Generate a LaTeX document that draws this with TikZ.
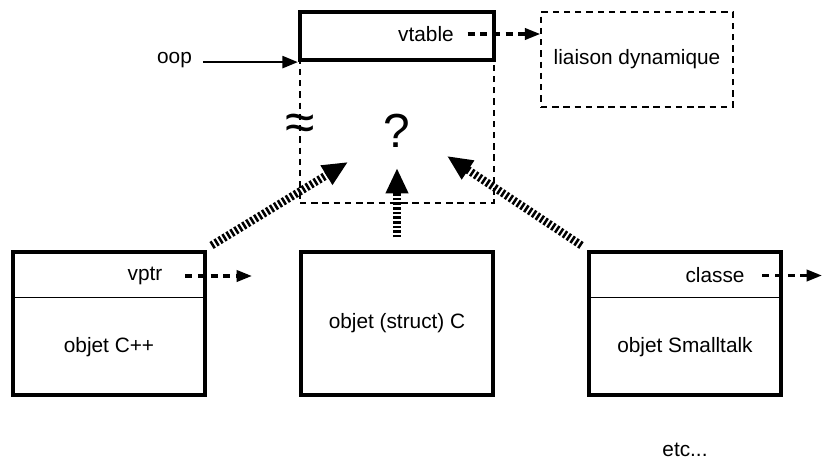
\documentclass[tikz,border=0pt]{standalone}
\usepackage{fontspec}
\setmainfont{Liberation Sans}
\usetikzlibrary{arrows.meta}
\tikzset{
  objbox/.style={draw, line width=2.2pt, minimum width=4.8cm, minimum height=3.575cm},
  zonebox/.style={draw, line width=1pt, dash pattern=on 4.5pt off 3.5pt},
  ptrarrow/.style={line width=2.3pt, dash pattern=on 5pt off 4pt, -{Triangle[length=11pt,width=8pt]}},
  hatcharrow/.style={line width=5.7pt, dash pattern=on 1.8pt off 1.5pt, -{Triangle[length=18pt,width=15pt]}},
}
\begin{document}
\begin{tikzpicture}[every node/.style={font=\fontsize{14.8}{17}\selectfont}]
	   \useasboundingbox (0,0) rectangle (20.575,11.475);
	   \node [zonebox,minimum width=4.85cm,minimum height=3.575cm] (zone) at (9.925,8.1875) {};
	   \node [draw,line width=3pt,fill=white,minimum width=4.85cm,minimum height=1.2cm] (vtable) at (9.925,10.575) {};
	   \node (vtabletxt) at (10.65,10.625) {vtable};
	   \node [zonebox,minimum width=4.8cm,minimum height=2.375cm] (liaison) at (15.925,9.9875) {liaison dynamique};
	   \node (oop) at (4.3625,9.975) {oop};
	   \node [font=\fontsize{34}{40}\selectfont] (question) at (9.925,8.2) {?};
	   \node [font=\fontsize{38}{42}\selectfont] (rupture) at (7.5,8.3) {≈};
	   \draw [ptrarrow] ([xshift=0.225cm]vtabletxt.east) -- (vtabletxt -| liaison.west);
	   \draw [line width=1.8pt,-{Triangle[length=11pt,width=8.5pt]}] ([xshift=0.15cm]oop.east |- vtable.south west) -- (vtable.south west);
	   \node [objbox] (cpp) at (2.725,3.3875) {};
	   \node [objbox] (cstruct) at (9.925,3.3875) {objet (struct) C};
	   \node [objbox] (smalltalk) at (17.125,3.3875) {};
	   \draw [line width=1pt] ([yshift=-1.175cm]cpp.north west) -- ([yshift=-1.175cm]cpp.north east);
	   \draw [line width=1pt] ([yshift=-1.175cm]smalltalk.north west) -- ([yshift=-1.175cm]smalltalk.north east);
	   \node (vptr) at (3.625,4.575) {vptr};
	   \node (cppname) at (2.725,2.8) {objet C++};
	   \node (classe) at (17.875,4.5875) {classe};
	   \node (stname) at (17.125,2.8) {objet Smalltalk};
	   \node [anchor=base] (etc) at (17.125,0.075) {etc...};
	   \coordinate (vptrend) at (6.3,4.575);
	   \coordinate (classeend) at (20.55,4.5875);
	   \draw [ptrarrow] ([xshift=0.45cm]vptr.east) -- (vptrend);
	   \draw [ptrarrow] ([xshift=0.325cm]classe.east) -- (classeend);
	   \coordinate (qleft) at (8.7,7.425);
	   \coordinate (qmid) at (9.925,7.275);
	   \coordinate (qright) at (11.175,7.575);
	   \draw [hatcharrow] ([shift={(0.125,0.125)}]cpp.north east) -- (qleft);
	   \draw [hatcharrow] ([yshift=0.325cm]cstruct.north) -- (qmid);
	   \draw [hatcharrow] ([shift={(-0.15,0.125)}]smalltalk.north west) -- (qright);
	\end{tikzpicture}
\end{document}
